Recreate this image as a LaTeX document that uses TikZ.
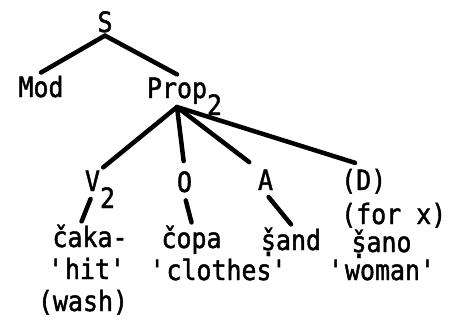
\documentclass[tikz,border=0pt]{standalone}
\usepackage{fontspec}
\newfontfamily\typewriter[FakeStretch=0.89, FakeBold=1.5]{DejaVu Sans Mono}
\usetikzlibrary{calc}
\newcommand{\gloss}[1]{\textquotesingle#1\textquotesingle}
\newcommand{\lowsub}[1]{\rlap{\raisebox{-17pt}[0pt][0pt]{#1}}}
\newcommand{\retro}[1]{\rlap{#1}\raisebox{-6pt}[0pt][0pt]{.}}
\tikzset{%
  cat/.style={%
    inner sep=3pt,%
    font={\typewriter\fontsize{28}{32}\selectfont},%
    anchor=base%
  },
  word/.style={%
    inner sep=3pt,%
    font={\typewriter\fontsize{28}{32}\selectfont},%
    anchor=base%
  },
  branch/.style={%
    line width=4.5pt,%
    line cap=round%
  },
  twig/.style={%
    branch,%
    shorten <=5pt%
  },
}
\begin{document}
\begin{tikzpicture}[x=1pt, y=-1pt]
  \useasboundingbox (0,0) rectangle (450,324);

  \node [cat] (S) at (105,32) {S};
  \node [cat] (Mod) at (41,97) {Mod};
  \node [cat] (Prop) at (177,98) {Prop\lowsub{2}};
  \node [cat] (V) at (92.5,191) {V\lowsub{2}};
  \node [cat] (O) at (184.5,192) {O};
  \node [cat] (A) at (265.5,190) {A};
  \node [cat, anchor=base west] (D) at (338,190) {(D)};
  \node [cat, anchor=base west] (forx) at (338,224) {(for x)};

  \node [word] (caka) at (90,247) {čaka-};
  \node [word] (copa) at (191.5,248) {čopa};
  \node [word] (sand) at (291,250) {\retro{š}and};
  \node [word] (sano) at (381.5,252) {\retro{š}ano};
  \node [word] (hit) at (87.5,279) {\gloss{hit}};
  \node [word] (clothes) at (219,280) {\gloss{clothes}};
  \node [word] (woman) at (382.5,280) {\gloss{woman}};
  \node [word] (wash) at (83,311) {(wash)};

  \draw [branch] (S.south) -- (Mod.north);
  \draw [branch] (S.south) -- (Prop.north);
  \draw [branch] (Prop.south) -- (V.north east);
  \draw [branch, shorten >=7pt] (Prop.south) -- (O.north);
  \draw [branch, shorten >=7pt] (Prop.south) -- (A.north west);
  \draw [branch, shorten >=9pt] (Prop.south) -- (D.north);

  \draw [twig] (V.south) -- (caka.120);
  \draw [twig] (O.south) -- (copa.north);
  \draw [twig] (A.south) -- (sand.north);
\end{tikzpicture}
\end{document}
